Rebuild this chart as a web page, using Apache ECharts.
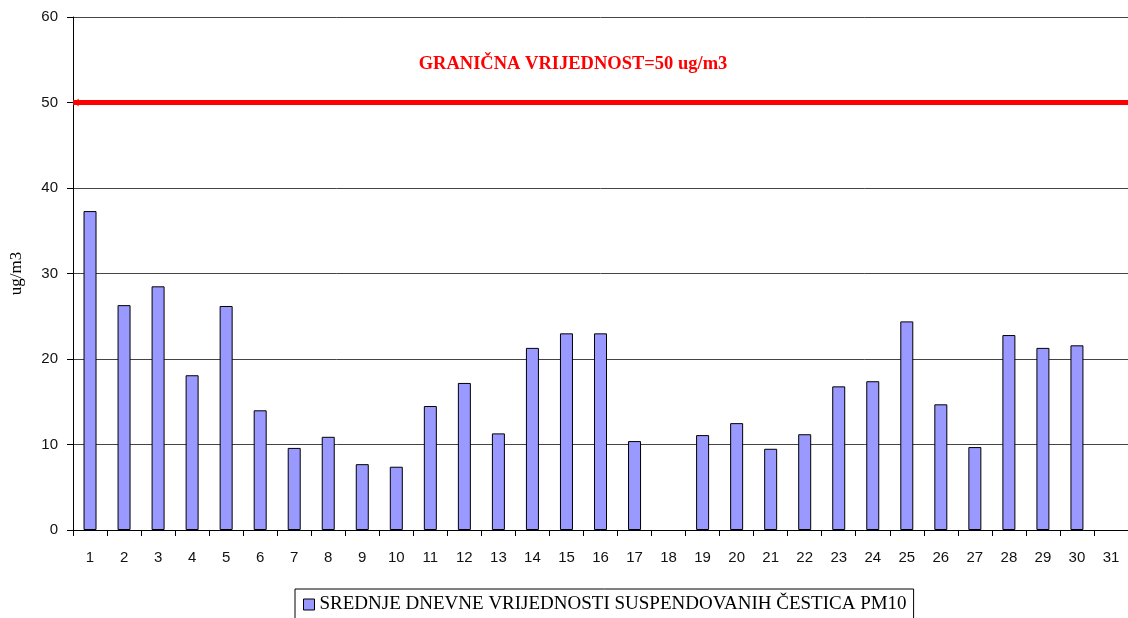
<!DOCTYPE html>
<html>
<head>
<meta charset="utf-8">
<script src="https://cdn.jsdelivr.net/npm/echarts@6/dist/echarts.min.js"></script>
<style>
  html, body { margin: 0; padding: 0; background: #fff; }
  #main { width: 1128px; height: 618px; }
</style>
</head>
<body>
<div id="main"></div>
<script>
// dani u mjesecu
var days = [];
for (var d = 1; d <= 31; d++) days.push(String(d));
// srednje dnevne vrijednosti PM10 (ug/m3), 18. i 31. bez podatka
var pm10 = [37.3, 26.3, 28.5, 18.1, 26.2, 14.0, 9.6, 10.9, 7.7, 7.4,
            14.5, 17.2, 11.3, 21.3, 23.0, 23.0, 10.4, null, 11.1, 12.5,
            9.5, 11.2, 16.8, 17.4, 24.4, 14.7, 9.7, 22.8, 21.3, 21.6, null];
var limitValue = 50;
var seriesName = 'SREDNJE DNEVNE VRIJEDNOSTI SUSPENDOVANIH ČESTICA PM10';
var limitText = 'GRANIČNA VRIJEDNOST=50 ug/m3';

var myChart = echarts.init(document.getElementById('main'));
myChart.setOption({
  animation: false,
  title: {
    text: limitText,
    left: 568,
    top: 50,
    textAlign: 'center',
    textStyle: { color: '#ff0000', fontFamily: 'Liberation Serif', fontSize: 18.5, fontWeight: 'bold' }
  },
  legend: {
    data: [{ name: seriesName, icon: 'rect' }],
    left: 295,
    top: 589,
    padding: [6, 7, 10, 8],
    borderColor: '#000',
    borderWidth: 1,
    itemWidth: 11,
    itemHeight: 11,
    itemGap: 4,
    itemStyle: { color: '#9999ff', borderColor: '#000', borderWidth: 1 },
    textStyle: { fontFamily: 'Liberation Serif', fontSize: 19, color: '#000' }
  },
  grid: { left: 73, right: -4, top: 17, bottom: 88, containLabel: false },
  xAxis: {
    type: 'category',
    data: days,
    axisLine: { lineStyle: { color: '#000', width: 1 } },
    axisTick: { show: true, length: 6, lineStyle: { color: '#000' } },
    axisLabel: { color: '#111', fontFamily: 'Liberation Sans', fontSize: 15, margin: 20 }
  },
  yAxis: {
    type: 'value',
    min: 0,
    max: 60,
    interval: 10,
    name: 'ug/m3',
    nameLocation: 'middle',
    nameGap: 48,
    nameTextStyle: { fontFamily: 'Liberation Serif', fontSize: 17, color: '#000' },
    axisLine: { show: true, lineStyle: { color: '#000' } },
    axisTick: { show: true, length: 6, lineStyle: { color: '#000' } },
    axisLabel: { color: '#111', fontFamily: 'Liberation Sans', fontSize: 15, margin: 15 },
    splitLine: { lineStyle: { color: '#444', width: 1 } }
  },
  series: [{
    name: seriesName,
    type: 'bar',
    data: pm10,
    barWidth: 13,
    itemStyle: { color: '#9999ff', borderColor: '#000', borderWidth: 1 },
    markLine: {
      silent: true,
      symbol: ['arrow', 'none'],
      symbolSize: [6, 6],
      label: { show: false },
      lineStyle: { color: '#ff0000', width: 5, type: 'solid' },
      data: [{ yAxis: limitValue }]
    }
  }]
});
</script>
</body>
</html>
